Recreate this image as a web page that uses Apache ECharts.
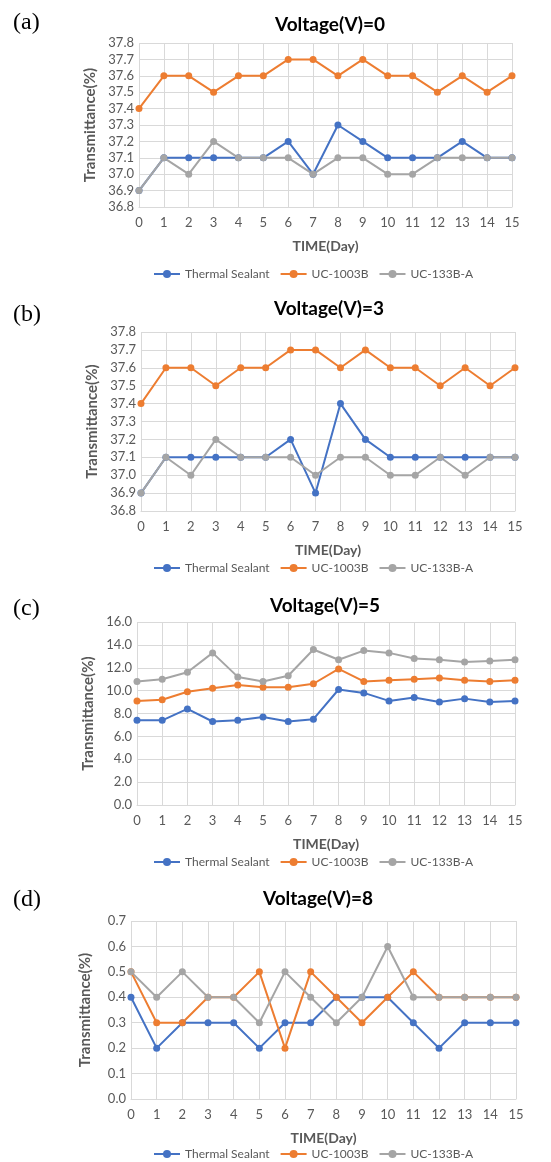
<!DOCTYPE html>
<html><head><meta charset="utf-8">
<script src="https://cdn.jsdelivr.net/npm/echarts@6/dist/echarts.min.js"></script>
<style>html,body{margin:0;padding:0;background:#fff}#c{width:551px;height:1162px}</style>
</head><body><div id="c"></div>
<script>
const days = [0,1,2,3,4,5,6,7,8,9,10,11,12,13,14,15];
const seriesNames = ['Thermal Sealant','UC-1003B','UC-133B-A'];
const panelTitles = ['Voltage(V)=0','Voltage(V)=3','Voltage(V)=5','Voltage(V)=8'];
const panelLetters = ['(a)','(b)','(c)','(d)'];

// Voltage 0
const v0Thermal = [36.9,37.1,37.1,37.1,37.1,37.1,37.2,37.0,37.3,37.2,37.1,37.1,37.1,37.2,37.1,37.1];
const v0UC1003B = [37.4,37.6,37.6,37.5,37.6,37.6,37.7,37.7,37.6,37.7,37.6,37.6,37.5,37.6,37.5,37.6];
const v0UC133BA = [36.9,37.1,37.0,37.2,37.1,37.1,37.1,37.0,37.1,37.1,37.0,37.0,37.1,37.1,37.1,37.1];
// Voltage 3
const v3Thermal = [36.9,37.1,37.1,37.1,37.1,37.1,37.2,36.9,37.4,37.2,37.1,37.1,37.1,37.1,37.1,37.1];
const v3UC1003B = [37.4,37.6,37.6,37.5,37.6,37.6,37.7,37.7,37.6,37.7,37.6,37.6,37.5,37.6,37.5,37.6];
const v3UC133BA = [36.9,37.1,37.0,37.2,37.1,37.1,37.1,37.0,37.1,37.1,37.0,37.0,37.1,37.0,37.1,37.1];
// Voltage 5
const v5Thermal = [7.4,7.4,8.4,7.3,7.4,7.7,7.3,7.5,10.1,9.8,9.1,9.4,9.0,9.3,9.0,9.1];
const v5UC1003B = [9.1,9.2,9.9,10.2,10.5,10.3,10.3,10.6,11.9,10.8,10.9,11.0,11.1,10.9,10.8,10.9];
const v5UC133BA = [10.8,11.0,11.6,13.3,11.2,10.8,11.3,13.6,12.7,13.5,13.3,12.8,12.7,12.5,12.6,12.7];
// Voltage 8
const v8Thermal = [0.4,0.2,0.3,0.3,0.3,0.2,0.3,0.3,0.4,0.4,0.4,0.3,0.2,0.3,0.3,0.3];
const v8UC1003B = [0.5,0.3,0.3,0.4,0.4,0.5,0.2,0.5,0.4,0.3,0.4,0.5,0.4,0.4,0.4,0.4];
const v8UC133BA = [0.5,0.4,0.5,0.4,0.4,0.3,0.5,0.4,0.3,0.4,0.6,0.4,0.4,0.4,0.4,0.4];

// y-axis ranges
const yMins = [36.8, 36.8, 0, 0];
const yMaxs = [37.8, 37.8, 16, 0.7];
const yIntervals = [0.1, 0.1, 2, 0.1];

const panelData = [
  [v0Thermal, v0UC1003B, v0UC133BA],
  [v3Thermal, v3UC1003B, v3UC133BA],
  [v5Thermal, v5UC1003B, v5UC133BA],
  [v8Thermal, v8UC1003B, v8UC133BA]
];

const colors = ['#4472C4','#ED7D31','#A5A5A5'];
const FONT = 'Lato';
const grids = [
  {left:139, top:43,  width:373, height:164},
  {left:141, top:332, width:374, height:179},
  {left:137, top:622, width:378, height:183},
  {left:131, top:921, width:385, height:178}
];
const titleLayout = [
  {cx:325, top:10, letterTop:6},
  {cx:324, top:294, letterTop:298},
  {cx:320, top:591, letterTop:592},
  {cx:313, top:884, letterTop:883}
];
const legendTops = [263, 557, 851, 1143];

const option = {
  animation:false,
  color: colors,
  title: [],
  grid: grids,
  xAxis: [], yAxis: [], legend: [], series: []
};

for (let p = 0; p < 4; p++) {
  option.title.push({
    text: panelTitles[p], left: titleLayout[p].cx, top: titleLayout[p].top, textAlign:'center',
    textStyle:{fontFamily:FONT, fontWeight:'bold', fontSize:19, color:'#000'}
  });
  option.title.push({
    text: panelLetters[p], left: 8, top: titleLayout[p].letterTop,
    textStyle:{fontFamily:'Liberation Serif', fontWeight:'normal', fontSize:24, color:'#000'}
  });
  option.xAxis.push({
    type:'value', gridIndex:p, min:0, max:15, interval:1,
    name:'TIME(Day)', nameLocation:'middle', nameGap:32,
    nameTextStyle:{fontFamily:FONT, fontWeight:'bold', fontSize:14, color:'#595959'},
    axisLine:{show:true, lineStyle:{color:'#D9D9D9', width:1}},
    axisTick:{show:false},
    axisLabel:{fontFamily:FONT, fontSize:13, color:'#595959', margin:9},
    splitLine:{show:true, lineStyle:{color:'#D9D9D9', width:1}}
  });
  option.yAxis.push({
    type:'value', gridIndex:p, min:yMins[p], max:yMaxs[p], interval:yIntervals[p],
    name:'Transmittance(%)', nameLocation:'middle', nameGap:38, nameRotate:90,
    nameTextStyle:{fontFamily:FONT, fontWeight:'bold', fontSize:15, color:'#595959'},
    axisLine:{show:false}, axisTick:{show:false},
    axisLabel:{fontFamily:FONT, fontSize:13, color:'#595959', margin:5,
      formatter: v => v.toFixed(1)},
    splitLine:{show:true, lineStyle:{color:'#D9D9D9', width:1}}
  });
  option.legend.push({
    top: legendTops[p], left:148, itemWidth:26, itemHeight:10, itemGap:10,
    data: seriesNames,
    textStyle:{fontFamily:FONT, fontSize:12, color:'#595959'}
  });
  for (let s = 0; s < 3; s++) {
    option.series.push({
      type:'line', name: seriesNames[s], xAxisIndex:p, yAxisIndex:p,
      data: days.map((d,i)=>[d, panelData[p][s][i]]),
      symbol:'circle', symbolSize:7, showSymbol:true,
      lineStyle:{width:2, color:colors[s]}, itemStyle:{color:colors[s]}
    });
  }
}

const chart = echarts.init(document.getElementById('c'), null, {renderer:'canvas'});
chart.setOption(option);
</script></body></html>
